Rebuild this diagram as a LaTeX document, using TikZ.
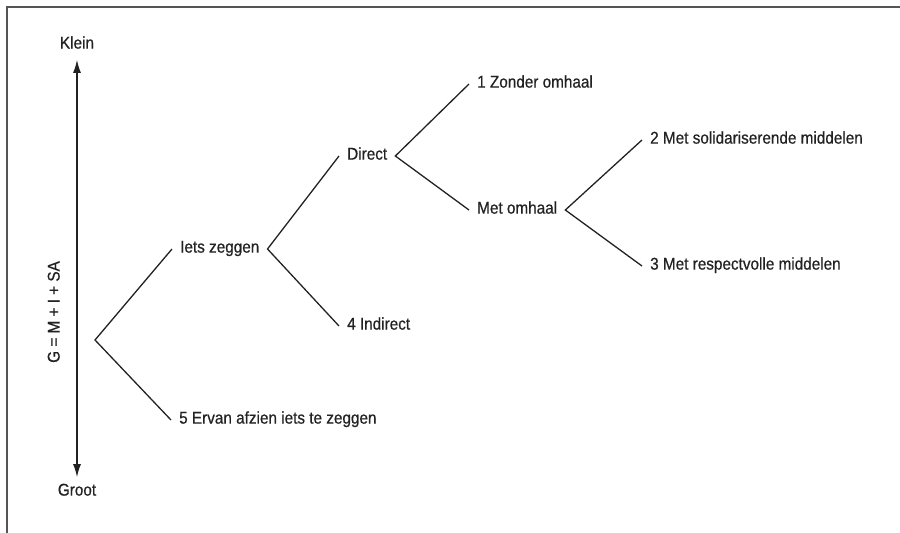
\documentclass[tikz,border=0pt]{standalone}
\usepackage{fontspec}
\setmainfont[FakeStretch=0.9, FakeBold=0.6]{Liberation Sans}
\usetikzlibrary{arrows.meta, positioning}
\definecolor{ink}{HTML}{222222}
\definecolor{framegray}{HTML}{555555}
\tikzset{%
	item/.style={anchor=west, inner xsep=8pt, inner ysep=0pt, text height=0.72em, text depth=0pt, text=ink},
	pole/.style={inner xsep=2pt, inner ysep=11pt, text height=0.72em, text depth=0pt, text=ink},
	branch/.style={draw=ink, line width=1.3pt},
	axis/.style={draw=ink, line width=1.5pt, {Latex[length=13pt,width=8pt]}-{Latex[length=13pt,width=8pt]}},
	frame/.style={draw=framegray, line width=1.3pt}
}
\begin{document}
\begin{tikzpicture}[x=1pt, y=-1pt, font=\fontsize{17pt}{20pt}\selectfont]
		\useasboundingbox (0,0) rectangle (900,533);
		\draw [frame] (7,533) -- (7,7) -- (900,7);

		\node[pole] (klein) at (77,45) {Klein};
		\node[pole] (groot) at (77,492) {Groot};
		\node[pole, rotate=90, inner ysep=0pt] (formula) at (56,312) {G = M + I + SA};
		\draw [axis] (klein.south) -- (groot.north);

		\coordinate (root) at (95,340);
		\node[item] (iets)      at (172,249) {Iets zeggen};
		\node[item] (ervan)     at (171,420) {5 Ervan afzien iets te zeggen};
		\node[item] (direct)    at (339,156) {Direct};
		\node[item] (indirect)  at (339,326) {4 Indirect};
		\node[item] (zonder)    at (469,84)  {1 Zonder omhaal};
		\node[item] (metomhaal) at (469,210) {Met omhaal};
		\node[item] (solid)     at (642,140) {2 Met solidariserende middelen};
		\node[item] (respect)   at (642,266) {3 Met respectvolle middelen};

		\draw [branch] (iets.west) -- (root) -- (ervan.west);
		\draw [branch] (direct.west) -- (iets.east) -- (indirect.west);
		\draw [branch] (zonder.west) -- (direct.east) -- (metomhaal.west);
		\draw [branch] (solid.west) -- (metomhaal.east) -- (respect.west);
	\end{tikzpicture}
\end{document}
